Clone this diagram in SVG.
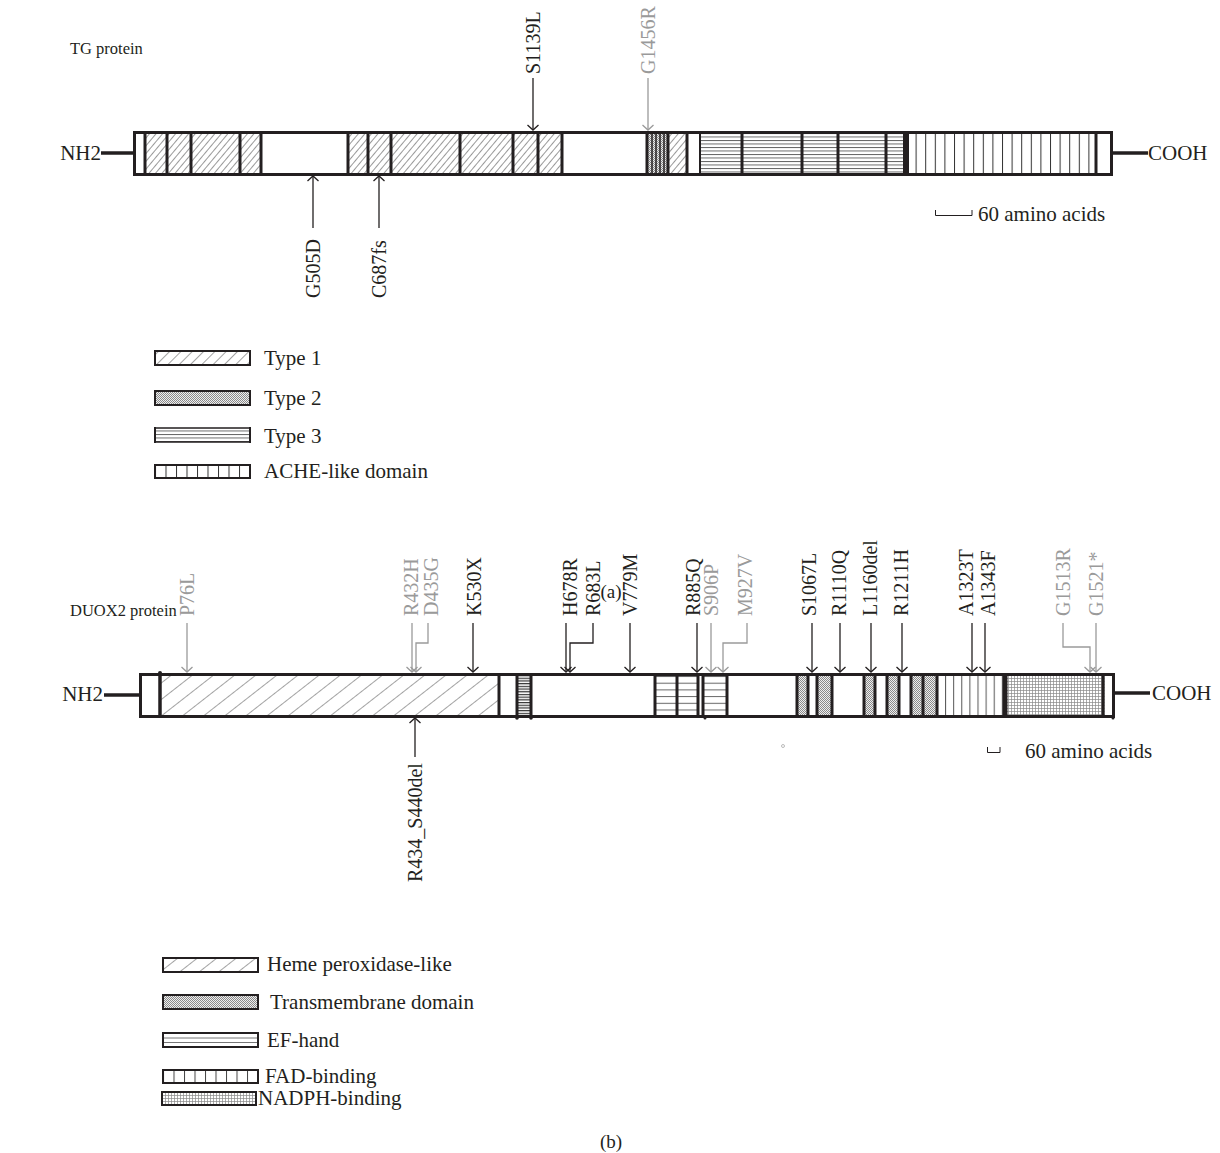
<svg xmlns="http://www.w3.org/2000/svg" width="1220" height="1153" viewBox="0 0 1220 1153">
<defs>
<style>
text{font-family:"Liberation Serif","Times New Roman",serif;font-size:21px;fill:#231f20}
.t{font-size:16.5px}
.lb{font-size:20px}
.cap{font-size:19px}
.g{fill:#9a9a9a}
.bd{fill:none;stroke:#231f20;stroke-width:3}
.dv{stroke:#231f20;stroke-width:3}
.dvt{stroke:#231f20;stroke-width:1.5}
.ml{fill:none;stroke:#231f20;stroke-width:1.3;marker-end:url(#ah)}
.mg{fill:none;stroke:#9a9a9a;stroke-width:1.3;marker-end:url(#ahg)}
.lg{stroke:#231f20;stroke-width:2}
.stem{stroke:#231f20;stroke-width:3.5}
</style>
<marker id="ah" markerUnits="userSpaceOnUse" markerWidth="12" markerHeight="12" refX="6" refY="6" orient="auto" viewBox="0 0 12 12"><path d="M1,0.5 L6,6 L1,11.5" fill="none" stroke="#231f20" stroke-width="1.3"/></marker>
<marker id="ahg" markerUnits="userSpaceOnUse" markerWidth="12" markerHeight="12" refX="6" refY="6" orient="auto" viewBox="0 0 12 12"><path d="M1,0.5 L6,6 L1,11.5" fill="none" stroke="#9a9a9a" stroke-width="1.3"/></marker>
<pattern id="hTG" patternUnits="userSpaceOnUse" width="5" height="5" patternTransform="rotate(40)"><rect width="5" height="5" fill="#fff"/><line x1="0" y1="0" x2="0" y2="5" stroke="#333" stroke-width="1"/></pattern>
<pattern id="hHeme" patternUnits="userSpaceOnUse" width="13" height="13" patternTransform="rotate(52)"><rect width="13" height="13" fill="#fff"/><line x1="0" y1="0" x2="0" y2="13" stroke="#333" stroke-width="0.9"/></pattern>
<pattern id="hL1" patternUnits="userSpaceOnUse" width="8" height="8" patternTransform="rotate(45)"><rect width="8" height="8" fill="#fff"/><line x1="0" y1="0" x2="0" y2="8" stroke="#333" stroke-width="0.9"/></pattern>
<pattern id="hL2" patternUnits="userSpaceOnUse" width="12" height="12" patternTransform="rotate(52)"><rect width="12" height="12" fill="#fff"/><line x1="0" y1="0" x2="0" y2="12" stroke="#333" stroke-width="0.9"/></pattern>
<pattern id="stip" patternUnits="userSpaceOnUse" width="2" height="2"><rect width="2" height="2" fill="#eeeeee"/><rect width="1" height="1" fill="#8a8a8a"/><rect x="1" y="1" width="1" height="1" fill="#8a8a8a"/></pattern>
<pattern id="hor" patternUnits="userSpaceOnUse" width="10" height="3.5"><rect width="10" height="3.5" fill="#fff"/><line x1="0" y1="0.5" x2="10" y2="0.5" stroke="#555" stroke-width="0.9"/></pattern>
<pattern id="horD" patternUnits="userSpaceOnUse" width="10" height="6.7" y="676"><rect width="10" height="6.7" fill="#fff"/><line x1="0" y1="0.5" x2="10" y2="0.5" stroke="#666" stroke-width="1"/></pattern>
<pattern id="horDense" patternUnits="userSpaceOnUse" width="10" height="2.7"><rect width="10" height="2.7" fill="#fff"/><line x1="0" y1="0.6" x2="10" y2="0.6" stroke="#333" stroke-width="1.2"/></pattern>
<pattern id="vert" patternUnits="userSpaceOnUse" width="9.6" height="10" x="906"><rect width="9.6" height="10" fill="#fff"/><line x1="0.5" y1="0" x2="0.5" y2="10" stroke="#333" stroke-width="1"/></pattern>
<pattern id="vertD" patternUnits="userSpaceOnUse" width="8.1" height="10" x="937"><rect width="8.1" height="10" fill="#fff"/><line x1="0.5" y1="0" x2="0.5" y2="10" stroke="#555" stroke-width="1"/></pattern>
<pattern id="vertL" patternUnits="userSpaceOnUse" width="10.5" height="10" x="155"><rect width="10.5" height="10" fill="#fff"/><line x1="0.5" y1="0" x2="0.5" y2="10" stroke="#333" stroke-width="1"/></pattern>
<pattern id="vertL2" patternUnits="userSpaceOnUse" width="10.5" height="10" x="163"><rect width="10.5" height="10" fill="#fff"/><line x1="0.5" y1="0" x2="0.5" y2="10" stroke="#444" stroke-width="1"/></pattern>
<pattern id="grid" patternUnits="userSpaceOnUse" width="3" height="3"><rect width="3" height="3" fill="#fff"/><path d="M0,0.5 H3 M0.5,0 V3" stroke="#888" stroke-width="0.7"/></pattern>
</defs>
<rect width="1220" height="1153" fill="#fff"/>

<!-- Panel (a) -->
<g id="tg-title"><text class="t" x="70" y="54">TG protein</text></g>
<g id="tg-protein">
  <line x1="101" y1="153" x2="134" y2="153" class="stem"/>
  <text x="101" y="160" text-anchor="end">NH2</text>
  <line x1="1112" y1="153" x2="1148" y2="153" class="stem"/>
  <text x="1148" y="160">COOH</text>
  <rect x="145" y="133" width="116" height="41" fill="url(#hTG)"/>
  <rect x="348" y="133" width="214" height="41" fill="url(#hTG)"/>
  <rect x="647" y="133" width="21" height="41" fill="url(#stip)"/>
  <rect x="668" y="133" width="19" height="41" fill="url(#hTG)"/>
  <rect x="700" y="133" width="206" height="41" fill="url(#hor)"/>
  <rect x="906" y="133" width="190" height="41" fill="url(#vert)"/>
  <g class="dv">
    <line x1="145" y1="132" x2="145" y2="175"/><line x1="167" y1="132" x2="167" y2="175"/>
    <line x1="191" y1="132" x2="191" y2="175"/><line x1="240" y1="132" x2="240" y2="175"/>
    <line x1="261" y1="132" x2="261" y2="175"/><line x1="348" y1="132" x2="348" y2="175"/>
    <line x1="368" y1="132" x2="368" y2="175"/><line x1="391" y1="132" x2="391" y2="175"/>
    <line x1="460" y1="132" x2="460" y2="175"/><line x1="513" y1="132" x2="513" y2="175"/>
    <line x1="538" y1="132" x2="538" y2="175"/><line x1="562" y1="132" x2="562" y2="175"/>
    <line x1="647" y1="132" x2="647" y2="175"/><line x1="668" y1="132" x2="668" y2="175"/>
    <line x1="687" y1="132" x2="687" y2="175"/><line x1="742" y1="132" x2="742" y2="175"/>
    <line x1="802" y1="132" x2="802" y2="175"/><line x1="838" y1="132" x2="838" y2="175"/>
    <line x1="886" y1="132" x2="886" y2="175"/><line x1="1096" y1="132" x2="1096" y2="175"/>
  </g>
  <line x1="906" y1="132" x2="906" y2="175" stroke="#231f20" stroke-width="6"/>
  <g class="dvt">
    <line x1="652" y1="133" x2="652" y2="174"/><line x1="656" y1="133" x2="656" y2="174"/>
    <line x1="660" y1="133" x2="660" y2="174"/><line x1="664" y1="133" x2="664" y2="174"/>
    <line x1="700" y1="133" x2="700" y2="174" stroke-width="2"/>
  </g>
  <rect x="134.5" y="132.5" width="977" height="42" class="bd"/>
</g>
<g id="tg-connectors">
  <path d="M533,78 V130" class="ml"/>
  <path d="M648,78 V130" class="mg"/>
  <path d="M313,228 V176" class="ml"/>
  <path d="M379,228 V176" class="ml"/>
</g>
<g id="tg-labels">
  <text class="lb" transform="translate(540,74) rotate(-90)">S1139L</text>
  <text class="lb g" transform="translate(655,74) rotate(-90)">G1456R</text>
  <text class="lb" transform="translate(320,298) rotate(-90)">G505D</text>
  <text class="lb" transform="translate(386,298) rotate(-90)">C687fs</text>
</g>
<g id="tg-scale">
  <path d="M935.5,210 V215.5 H972 V210" fill="none" stroke="#231f20" stroke-width="1"/>
  <text x="978" y="221">60 amino acids</text>
</g>
<g id="tg-legend">
  <rect x="155" y="351" width="95" height="14" fill="url(#hL1)" class="lg"/>
  <text x="264" y="365">Type 1</text>
  <rect x="155" y="391" width="95" height="14" fill="url(#stip)" class="lg"/>
  <text x="264" y="405">Type 2</text>
  <rect x="155" y="428" width="95" height="14" fill="url(#hor)" stroke="#231f20" stroke-width="1.5"/>
  <line x1="155" y1="427" x2="155" y2="443" class="lg"/><line x1="250" y1="427" x2="250" y2="443" class="lg"/>
  <text x="264" y="443">Type 3</text>
  <rect x="155" y="465" width="95" height="13" fill="url(#vertL)" class="lg"/>
  <text x="264" y="478">ACHE-like domain</text>
</g>
<text class="cap" x="611" y="598" text-anchor="middle">(a)</text>

<!-- Panel (b) -->
<g id="duox-title"><text class="t" x="70" y="616">DUOX2 protein</text></g>
<g id="duox-protein">
  <line x1="104" y1="695" x2="140" y2="695" class="stem"/>
  <text x="103" y="701" text-anchor="end">NH2</text>
  <line x1="1114" y1="693" x2="1150" y2="693" class="stem"/>
  <text x="1152" y="700">COOH</text>
  <rect x="160" y="675" width="339" height="41" fill="url(#hHeme)"/>
  <rect x="517" y="675" width="14" height="41" fill="url(#horDense)"/>
  <rect x="655" y="675" width="43" height="41" fill="url(#horD)"/>
  <rect x="703" y="675" width="24" height="41" fill="url(#horD)"/>
  <rect x="797" y="675" width="11" height="41" fill="url(#stip)"/>
  <rect x="817" y="675" width="15" height="41" fill="url(#stip)"/>
  <rect x="863" y="675" width="12" height="41" fill="url(#stip)"/>
  <rect x="887" y="675" width="12" height="41" fill="url(#stip)"/>
  <rect x="910" y="675" width="27" height="41" fill="url(#stip)"/>
  <rect x="937" y="675" width="69" height="41" fill="url(#vertD)"/>
  <rect x="1006" y="675" width="99" height="41" fill="url(#grid)"/>
  <g class="dv">
    <line x1="160" y1="674" x2="160" y2="717" stroke-width="3.5"/>
    <line x1="499" y1="674" x2="499" y2="717"/><line x1="517" y1="674" x2="517" y2="717"/>
    <line x1="531" y1="674" x2="531" y2="717"/><line x1="655" y1="674" x2="655" y2="717"/>
    <line x1="677" y1="674" x2="677" y2="717"/><line x1="698" y1="674" x2="698" y2="717"/>
    <line x1="703" y1="674" x2="703" y2="717"/><line x1="727" y1="674" x2="727" y2="717"/>
    <line x1="797" y1="674" x2="797" y2="717"/><line x1="808" y1="674" x2="808" y2="717"/>
    <line x1="817" y1="674" x2="817" y2="717"/><line x1="832" y1="674" x2="832" y2="717"/>
    <line x1="864" y1="674" x2="864" y2="717"/><line x1="875" y1="674" x2="875" y2="717"/>
    <line x1="887" y1="674" x2="887" y2="717"/><line x1="899" y1="674" x2="899" y2="717"/>
    <line x1="911" y1="674" x2="911" y2="717"/><line x1="923" y1="674" x2="923" y2="717"/>
    <line x1="937" y1="674" x2="937" y2="717"/><line x1="1103" y1="674" x2="1103" y2="717"/>
  </g>
  <line x1="1005" y1="674" x2="1005" y2="717" stroke="#231f20" stroke-width="5"/>
  <rect x="140.5" y="674.5" width="973" height="42" class="bd"/>
  <g fill="#231f20">
    <circle cx="160" cy="673" r="2"/><circle cx="517" cy="718" r="1.8"/>
    <circle cx="531" cy="718" r="1.8"/><circle cx="705" cy="718" r="1.5"/>
    <circle cx="1113" cy="718" r="1.5"/>
  </g>
</g>
<g id="duox-connectors">
  <path d="M187,623 V672" class="mg"/>
  <path d="M412,623 V672" class="mg"/>
  <path d="M428,623 V643 H416 V672" class="mg"/>
  <path d="M473,623 V672" class="ml"/>
  <path d="M566,623 V672" class="ml"/>
  <path d="M593,623 V643 H570 V672" class="ml"/>
  <path d="M630,623 V672" class="ml"/>
  <path d="M697,623 V672" class="ml"/>
  <path d="M711,623 V672" class="mg"/>
  <path d="M747,623 V643 H723 V672" class="mg"/>
  <path d="M812,623 V672" class="ml"/>
  <path d="M840,623 V672" class="ml"/>
  <path d="M871,623 V672" class="ml"/>
  <path d="M902,623 V672" class="ml"/>
  <path d="M972,623 V672" class="ml"/>
  <path d="M985,623 V672" class="ml"/>
  <path d="M1063,623 V647 H1090 V672" class="mg"/>
  <path d="M1096,623 V672" class="mg"/>
  <path d="M415,757 V718" class="ml"/>
</g>
<g id="duox-labels">
  <text class="lb g" transform="translate(194,616) rotate(-90)">P76L</text>
  <text class="lb g" transform="translate(417.5,616) rotate(-90)">R432H</text>
  <text class="lb g" transform="translate(437.5,616) rotate(-90)">D435G</text>
  <text class="lb" transform="translate(481,616) rotate(-90)">K530X</text>
  <text class="lb" transform="translate(576.5,616) rotate(-90)">H678R</text>
  <text class="lb" transform="translate(599.5,616) rotate(-90)">R683L</text>
  <text class="lb" transform="translate(636.5,616) rotate(-90)">V779M</text>
  <text class="lb" transform="translate(699.5,616) rotate(-90)">R885Q</text>
  <text class="lb g" transform="translate(718,616) rotate(-90)">S906P</text>
  <text class="lb g" transform="translate(752,616) rotate(-90)">M927V</text>
  <text class="lb" transform="translate(816,616) rotate(-90)">S1067L</text>
  <text class="lb" transform="translate(846,616) rotate(-90)">R1110Q</text>
  <text class="lb" transform="translate(877,616) rotate(-90)">L1160del</text>
  <text class="lb" transform="translate(907.5,616) rotate(-90)">R1211H</text>
  <text class="lb" transform="translate(972.5,616) rotate(-90)">A1323T</text>
  <text class="lb" transform="translate(994.5,616) rotate(-90)">A1343F</text>
  <text class="lb g" transform="translate(1069.5,616) rotate(-90)">G1513R</text>
  <text class="lb g" transform="translate(1102.5,616) rotate(-90)">G1521*</text>
  <text class="lb" transform="translate(422,882) rotate(-90)">R434_S440del</text>
</g>
<g id="duox-scale">
  <path d="M987.5,747 V752.5 H1000 V747" fill="none" stroke="#231f20" stroke-width="1"/>
  <text x="1025" y="758">60 amino acids</text>
  <circle cx="783" cy="746" r="1.5" fill="none" stroke="#aaa" stroke-width="0.8"/>
</g>
<g id="duox-legend">
  <rect x="163" y="958" width="95" height="14" fill="url(#hL2)" class="lg"/>
  <text x="267" y="971">Heme peroxidase-like</text>
  <rect x="163" y="995" width="95" height="14" fill="url(#stip)" class="lg"/>
  <text x="270" y="1009">Transmembrane domain</text>
  <rect x="163" y="1033" width="95" height="14" fill="#fff" class="lg"/>
  <line x1="164" y1="1038" x2="257" y2="1038" stroke="#666" stroke-width="0.9"/>
  <line x1="164" y1="1042.5" x2="257" y2="1042.5" stroke="#666" stroke-width="0.9"/>
  <text x="267" y="1047">EF-hand</text>
  <rect x="163" y="1070" width="95" height="13" fill="url(#vertL2)" class="lg"/>
  <text x="265" y="1083">FAD-binding</text>
  <rect x="162" y="1092" width="94" height="13" fill="url(#grid)" class="lg"/>
  <text x="258" y="1105">NADPH-binding</text>
</g>
<text class="cap" x="611" y="1148" text-anchor="middle">(b)</text>
</svg>
